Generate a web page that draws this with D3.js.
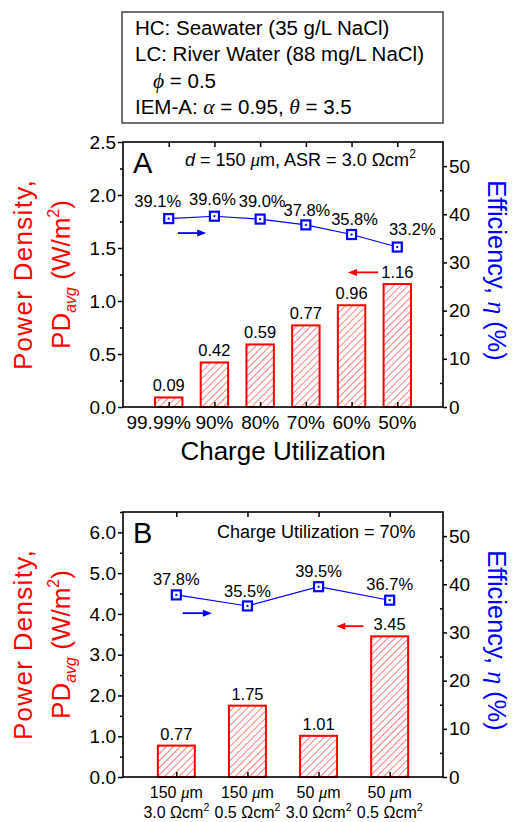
<!DOCTYPE html>
<html>
<head>
<meta charset="utf-8">
<script src="https://cdn.jsdelivr.net/npm/d3@7"></script>
<style>
  body { margin: 0; background: #fff; }
  svg { display: block; }
  text { font-family: "Liberation Sans", Arial, sans-serif; }
  .greek { font-family: "Liberation Serif", "Times New Roman", serif; font-style: italic; }
</style>
</head>
<body>
<script>
// ---------- data ----------
const catA = ["99.99%", "90%", "80%", "70%", "60%", "50%"];
const pdA = [0.09, 0.42, 0.59, 0.77, 0.96, 1.16];
const effA = [39.1, 39.6, 39.0, 37.8, 35.8, 33.2];
const pdTicksA = [0, 0.5, 1.0, 1.5, 2.0, 2.5];
const pdMinorA = [0.25, 0.75, 1.25, 1.75, 2.25];

const thickB = [150, 150, 50, 50];          // membrane thickness (µm)
const asrB = ["3.0", "0.5", "3.0", "0.5"];  // ASR (Ωcm²)
const pdB = [0.77, 1.75, 1.01, 3.45];
const effB = [37.8, 35.5, 39.5, 36.7];
const pdTicksB = [0, 1, 2, 3, 4, 5, 6];
const pdMinorB = [0.5, 1.5, 2.5, 3.5, 4.5, 5.5, 6.5];

const effTicks = [0, 10, 20, 30, 40, 50];
const effMinor = [5, 15, 25, 35, 45, 55];

// ---------- layout ----------
const W = 513, H = 822;
const RED = "#ff0000", BLUE = "#0000ff";
const svg = d3.select("body").append("svg").attr("width", W).attr("height", H);

const defs = svg.append("defs");
const HS = 5;
const pat = defs.append("pattern").attr("id", "hatch")
  .attr("patternUnits", "userSpaceOnUse").attr("width", HS).attr("height", HS)
  .attr("patternTransform", "rotate(45)");
pat.append("rect").attr("width", HS).attr("height", HS).attr("fill", "#fff");
pat.append("line").attr("x1", 0).attr("y1", 0).attr("x2", 0).attr("y2", HS)
  .attr("stroke", RED).attr("stroke-width", 1);

// ---------- legend box ----------
const box = svg.append("g");
box.append("rect").attr("x", 122).attr("y", 12).attr("width", 321).attr("height", 111)
  .attr("fill", "#fff").attr("stroke", "#444").attr("stroke-width", 1.5);
const lfs = 20.5;
box.append("text").attr("x", 135).attr("y", 35).attr("font-size", lfs).text("HC: Seawater (35 g/L NaCl)");
box.append("text").attr("x", 135).attr("y", 61).attr("font-size", lfs).text("LC: River Water (88 mg/L NaCl)");
const l3 = box.append("text").attr("x", 153).attr("y", 88).attr("font-size", lfs);
l3.append("tspan").attr("class", "greek").attr("font-size", lfs + 1).text("ϕ");
l3.append("tspan").text(" = 0.5");
const l4 = box.append("text").attr("x", 135).attr("y", 114).attr("font-size", lfs);
l4.append("tspan").text("IEM-A: ");
l4.append("tspan").attr("class", "greek").attr("font-size", lfs + 1).text("α");
l4.append("tspan").text(" = 0.95, ");
l4.append("tspan").attr("class", "greek").attr("font-size", lfs + 1).text("θ");
l4.append("tspan").text(" = 3.5");

// ---------- panel drawer ----------
function drawPanel(cfg) {
  const g = svg.append("g");
  const left = 123, right = 443, top = cfg.top, bottom = cfg.bottom;
  const x = d3.scaleLinear().domain(cfg.xDomain).range([left, right]);
  const yL = d3.scaleLinear().domain([0, cfg.pdMax]).range([bottom, top]);
  const yR = d3.scaleLinear().domain([0, 55]).range([bottom, top]);
  const n = cfg.pd.length;
  const idx = d3.range(n);
  const bw = (x(1) - x(0)) * cfg.barFrac;

  // bars
  g.selectAll("rect.bar").data(idx).join("rect").attr("class", "bar")
    .attr("x", i => x(i + 1) - bw / 2).attr("width", bw)
    .attr("y", i => yL(cfg.pd[i])).attr("height", i => yL(0) - yL(cfg.pd[i]))
    .attr("fill", "url(#hatch)").attr("stroke", RED).attr("stroke-width", 2);

  // bar value labels
  g.selectAll("text.pdv").data(idx).join("text").attr("class", "pdv")
    .attr("x", i => x(i + 1)).attr("y", i => yL(cfg.pd[i]) - 6)
    .attr("text-anchor", "middle").attr("font-size", 16.5)
    .text(i => cfg.pd[i].toFixed(2));

  // frame
  g.append("rect").attr("x", left).attr("y", top).attr("width", right - left).attr("height", bottom - top)
    .attr("fill", "none").attr("stroke", "#000").attr("stroke-width", 1.6);

  // left axis
  const axL = d3.axisLeft(yL).tickValues(cfg.pdTicks).tickSize(5).tickPadding(2)
    .tickFormat(d3.format(".1f"));
  const gL = g.append("g").attr("transform", `translate(${left},0)`).call(axL);
  gL.select(".domain").remove();
  gL.selectAll("line").attr("stroke-width", 1.5);
  gL.selectAll("text").attr("font-size", 19).attr("font-family", "Liberation Sans, Arial, sans-serif").attr("fill", "#000");
  const gLm = g.append("g").attr("transform", `translate(${left},0)`)
    .call(d3.axisLeft(yL).tickValues(cfg.pdMinor).tickSize(3).tickFormat(""));
  gLm.select(".domain").remove();
  gLm.selectAll("line").attr("stroke-width", 1.5);

  // right axis
  const axR = d3.axisRight(yR).tickValues(effTicks).tickSize(4).tickPadding(2);
  const gR = g.append("g").attr("transform", `translate(${right},0)`).call(axR);
  gR.select(".domain").remove();
  gR.selectAll("line").attr("stroke-width", 1.5);
  gR.selectAll("text").attr("font-size", 19).attr("font-family", "Liberation Sans, Arial, sans-serif").attr("fill", "#000");
  const gRm = g.append("g").attr("transform", `translate(${right},0)`)
    .call(d3.axisRight(yR).tickValues(effMinor.filter(v => yR(v) > top + 1)).tickSize(-3).tickFormat(""));
  gRm.select(".domain").remove();
  gRm.selectAll("line").attr("stroke-width", 1.5);

  // inner category ticks bottom / top
  const cats = idx.map(i => i + 1);
  const gB = g.append("g").attr("transform", `translate(0,${bottom})`)
    .call(d3.axisBottom(x).tickValues(cats).tickSize(-5).tickFormat(""));
  gB.select(".domain").remove();
  gB.selectAll("line").attr("stroke-width", 1.5);
  const gT = g.append("g").attr("transform", `translate(0,${top})`)
    .call(d3.axisTop(x).tickValues(cats).tickSize(-5).tickFormat(""));
  gT.select(".domain").remove();
  gT.selectAll("line").attr("stroke-width", 1.5);

  // category labels
  cfg.drawCats(g, x, bottom);

  // efficiency line + markers
  const pts = idx.map(i => [x(i + 1), yR(cfg.eff[i])]);
  g.append("path").attr("d", d3.line()(pts)).attr("fill", "none")
    .attr("stroke", BLUE).attr("stroke-width", 1.1);
  g.selectAll("rect.mk").data(idx).join("rect").attr("class", "mk")
    .attr("x", i => x(i + 1) - 4.5).attr("y", i => yR(cfg.eff[i]) - 4.5)
    .attr("width", 9).attr("height", 9)
    .attr("fill", "#fff").attr("stroke", BLUE).attr("stroke-width", 2.2);
  g.selectAll("rect.mkd").data(idx).join("rect").attr("class", "mkd")
    .attr("x", i => x(i + 1) - 1).attr("y", i => yR(cfg.eff[i]) - 1)
    .attr("width", 2).attr("height", 2).attr("fill", BLUE);
  g.selectAll("text.effv").data(idx).join("text").attr("class", "effv")
    .attr("x", i => x(i + 1) + cfg.effDx[i]).attr("y", i => yR(cfg.eff[i]) + cfg.effDy[i])
    .attr("text-anchor", "middle").attr("font-size", 16.5)
    .text(i => cfg.eff[i].toFixed(1) + "%");

  // arrows
  function arrow(x1, x2, yy, color) {
    const dir = Math.sign(x2 - x1);
    g.append("line").attr("x1", x1).attr("x2", x2 - dir * 7).attr("y1", yy).attr("y2", yy)
      .attr("stroke", color).attr("stroke-width", 1.8);
    g.append("path").attr("d", `M${x2},${yy} L${x2 - dir * 9},${yy - 3.5} L${x2 - dir * 9},${yy + 3.5} Z`)
      .attr("fill", color);
  }
  arrow(x(cfg.blueArrow[0]), x(cfg.blueArrow[1]), yR(cfg.blueArrow[2]), BLUE);
  arrow(x(cfg.redArrow[0]), x(cfg.redArrow[1]), yL(cfg.redArrow[2]), RED);

  // panel letter + note
  g.append("text").attr("x", left + 10).attr("y", top + cfg.letterDy).attr("font-size", 29).text(cfg.letter);
  cfg.drawNote(g, top);

  // axis titles (rotated)
  const cy = (top + bottom) / 2;
  g.append("g").attr("transform", `translate(32,${cy}) rotate(-90)`)
    .append("text").attr("text-anchor", "middle").attr("letter-spacing", 1.3)
    .attr("font-size", 26).attr("fill", RED).text("Power Density,");
  const t2 = g.append("g").attr("transform", `translate(70,${cy}) rotate(-90)`)
    .append("text").attr("text-anchor", "middle")
    .attr("font-size", 26).attr("fill", RED);
  t2.append("tspan").text("PD");
  t2.append("tspan").attr("font-size", 16).attr("font-style", "italic").attr("dy", 6).text("avg");
  t2.append("tspan").attr("dy", -6).text(" (W/m");
  t2.append("tspan").attr("font-size", 16).attr("dy", -11).text("2");
  t2.append("tspan").attr("dy", 11).text(")");
  const t3 = g.append("g").attr("transform", `translate(488,${cy - 4}) rotate(90)`)
    .append("text").attr("text-anchor", "middle")
    .attr("font-size", 25.5).attr("fill", BLUE);
  t3.append("tspan").text("Efficiency, ");
  t3.append("tspan").attr("class", "greek").attr("font-size", 26).text("η");
  t3.append("tspan").text(" (%)");
}

// ---------- panel A ----------
drawPanel({
  top: 142, bottom: 407, xDomain: [0, 7], pdMax: 2.5, barFrac: 0.6,
  pd: pdA, eff: effA, pdTicks: pdTicksA, pdMinor: pdMinorA,
  effDx: [-11, -2, 2, 1, 3, 15], effDy: [-12, -11, -12, -9, -10, -12],
  blueArrow: [1.2, 1.82, 36.1], redArrow: [5.58, 4.92, 1.27],
  letter: "A", letterDy: 31,
  drawCats: (g, x, bottom) => {
    const dx = [-10, 0, 0, 0, 0, 0];
    g.selectAll("text.cat").data(catA).join("text").attr("class", "cat")
      .attr("x", (d, i) => x(i + 1) + dx[i]).attr("y", bottom + 22)
      .attr("text-anchor", "middle").attr("font-size", 19).text(d => d);
    g.append("text").attr("x", x(3.5)).attr("y", bottom + 53).attr("text-anchor", "middle")
      .attr("font-size", 26).text("Charge Utilization");
  },
  drawNote: (g, top) => {
    const t = g.append("text").attr("x", 185).attr("y", top + 24).attr("font-size", 18);
    t.append("tspan").attr("font-style", "italic").text("d");
    t.append("tspan").text(" = 150 ");
    t.append("tspan").attr("class", "greek").attr("font-size", 19).text("μ");
    t.append("tspan").text("m, ASR = 3.0 Ωcm");
    t.append("tspan").attr("font-size", 12).attr("dy", -8).text("2");
  }
});

// ---------- panel B ----------
drawPanel({
  top: 512, bottom: 777, xDomain: [0.25, 4.75], pdMax: 6.5, barFrac: 0.52,
  pd: pdB, eff: effB, pdTicks: pdTicksB, pdMinor: pdMinorB,
  effDx: [0, 0, 0, 0], effDy: [-10, -9, -10, -10],
  blueArrow: [1.09, 1.5, 34.0], redArrow: [3.63, 3.25, 3.70],
  letter: "B", letterDy: 31,
  drawCats: (g, x, bottom) => {
    thickB.forEach((t, i) => {
      const a = g.append("text").attr("x", x(i + 1)).attr("y", bottom + 21)
        .attr("text-anchor", "middle").attr("font-size", 16);
      a.append("tspan").text(t + " ");
      a.append("tspan").attr("class", "greek").attr("font-size", 17).text("μ");
      a.append("tspan").text("m");
      const b = g.append("text").attr("x", x(i + 1)).attr("y", bottom + 41)
        .attr("text-anchor", "middle").attr("font-size", 16);
      b.append("tspan").text(asrB[i] + " Ωcm");
      b.append("tspan").attr("font-size", 10.5).attr("dy", -7).text("2");
    });
  },
  drawNote: (g, top) => {
    g.append("text").attr("x", 217).attr("y", top + 26).attr("font-size", 18).text("Charge Utilization = 70%");
  }
});
</script>
</body>
</html>
